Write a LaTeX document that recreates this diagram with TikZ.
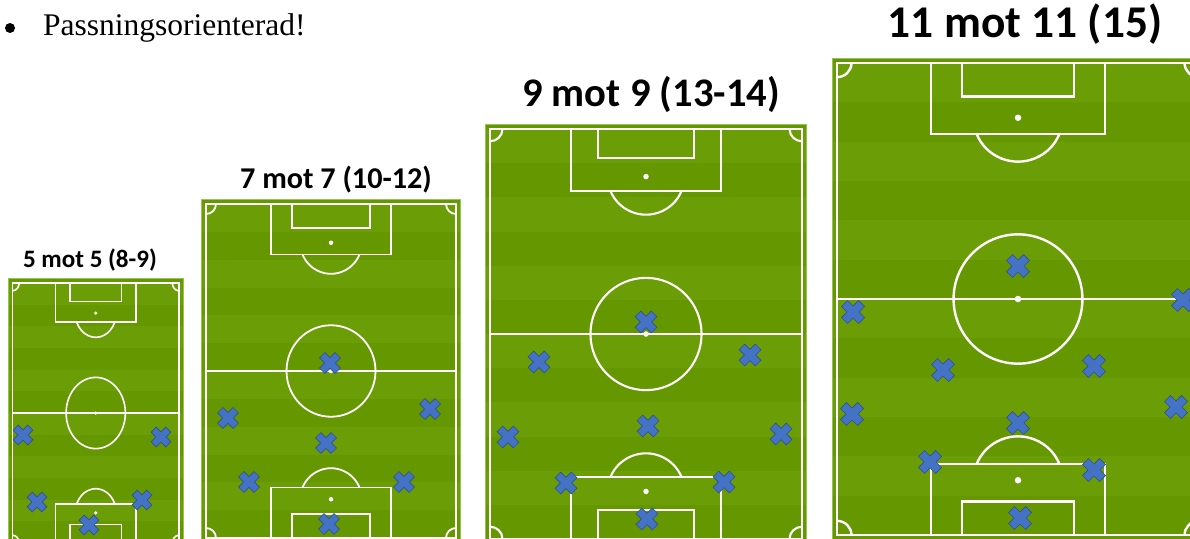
\documentclass[tikz,border=0pt]{standalone}
\usepackage{fontspec}
\setmainfont{Liberation Serif}
\newfontfamily\titlefont{Carlito}
\usetikzlibrary{positioning}

\definecolor{turf}{RGB}{101,151,0}
\definecolor{turflight}{RGB}{107,157,6}
\definecolor{turfedge}{RGB}{150,196,84}
\definecolor{plfill}{RGB}{68,114,196}
\definecolor{plline}{RGB}{47,82,143}

\tikzset{
  player/.pic={
    \filldraw[fill=plfill, draw=plline, line width=0.6pt, rotate=45]
      (-4,-11.5) -- (4,-11.5) -- (4,-4) -- (11.5,-4) -- (11.5,4) -- (4,4)
      -- (4,11.5) -- (-4,11.5) -- (-4,4) -- (-11.5,4) -- (-11.5,-4) -- (-4,-4) -- cycle;
  },
  agetitle/.style={font=\titlefont\bfseries, anchor=base, inner sep=0pt},
}

\begin{document}
\begin{tikzpicture}[x=1pt, y=-1pt]
  \useasboundingbox (0,0) rectangle (1190,538);
  \clip (0,0) rectangle (1190,538);

  % bullet line
  \node[circle, fill=black, inner sep=0pt, minimum size=10pt] (dot) at (10,28) {};
  \node[anchor=base west, inner sep=0pt, font=\fontsize{31.5}{36}\selectfont] (motto) at (43,35) {Passningsorienterad!};

  % pitches: name/left/top/width/length/line width/spot size
  \foreach \pn/\px/\py/\pw/\ph/\plw/\pds in {a/12.5/283/166.5/260/1.6/3.5,
      b/206/204/250/334/1.8/4.5, c/490/129/312/410/2.1/5.5, d/837/63/362/472/2.4/6.5} {
    \begin{scope}
      \clip ({\px-4.5},{\py-4.5}) rectangle ({\px+\pw+4.5},{\py+\ph+4.5});
      \fill[turf] ({\px-4.5},{\py-4.5}) rectangle ({\px+\pw+4.5},{\py+\ph+4.5});
      \begin{scope}[shift={(\px,\py)}, xscale=\pw, yscale=\ph]
        \foreach \k in {0,2,...,10}
          \fill[turflight] (-0.1,{\k/12}) rectangle (1.1,{(\k+1)/12});
      \end{scope}
    \end{scope}
    \draw[turfedge, line width=1pt] ({\px-4.5},{\py-4.5}) rectangle ({\px+\pw+4.5},{\py+\ph+4.5});
    \begin{scope}[shift={(\px,\py)}, xscale=\pw, yscale=\ph, white, line width=\plw pt]
      \draw (0,0) rectangle (1,1);
      \draw (0,0.5) -- (1,0.5);
      \draw (0.5,0.5) circle[x radius=0.178, y radius=0.137];
      % top end
      \draw (0.259,0) rectangle (0.741,0.151);
      \draw (0.345,0) rectangle (0.655,0.071);
      \draw (0.5,0.116) ++(22:0.123 and 0.093) arc[start angle=22, end angle=158, x radius=0.123, y radius=0.093];
      % bottom end
      \draw (0.259,1) rectangle (0.741,0.849);
      \draw (0.345,1) rectangle (0.655,0.929);
      \draw (0.5,0.884) ++(-22:0.123 and 0.093) arc[start angle=-22, end angle=-158, x radius=0.123, y radius=0.093];
      % corners
      \draw (0.04,0) arc[start angle=0, end angle=90, x radius=0.04, y radius=0.03];
      \draw (1,0.03) arc[start angle=90, end angle=180, x radius=0.04, y radius=0.03];
      \draw (0.04,1) arc[start angle=0, end angle=-90, x radius=0.04, y radius=0.03];
      \draw (0.96,1) arc[start angle=180, end angle=270, x radius=0.04, y radius=0.03];
      \node[circle, fill=white, inner sep=0pt, minimum size=\pds pt] (\pn-s1) at (0.5,0.116) {};
      \node[circle, fill=white, inner sep=0pt, minimum size=\pds pt] (\pn-s2) at (0.5,0.5) {};
      \node[circle, fill=white, inner sep=0pt, minimum size=\pds pt] (\pn-s3) at (0.5,0.884) {};
    \end{scope}
  }

  % titles
  \node[agetitle, font=\titlefont\bfseries\fontsize{25.1}{30}\selectfont] (t5) at (90,267) {5 mot 5 (8-9)};
  \node[agetitle, font=\titlefont\bfseries\fontsize{30.2}{36}\selectfont] (t7) at (336,188) {7 mot 7 (10-12)};
  \node[agetitle, font=\titlefont\bfseries\fontsize{40.6}{48}\selectfont] (t9) at (651,106) {9 mot 9 (13-14)};
  \node[agetitle, font=\titlefont\bfseries\fontsize{45.4}{54}\selectfont] (t11) at (1025,37) {11 mot 11 (15)};

  % players
  \foreach \mx/\my/\ms in {23/435/0.9, 161/437/0.9, 37/502/0.9, 142/500/0.9, 89/525/0.9,
      228/418/0.95, 430/409/0.95, 326/443/0.95, 249/482/0.95, 404/482/0.95, 330/363/0.95, 329/524/0.95,
      539/362/1, 646/322/1, 750/355/1, 508/437/1, 781/434/1, 648/426/1, 566/483/1, 724/482/1, 647/519/1,
      1018/266/1.05, 853/312/1.05, 1183/300/1.05, 943/370/1.05, 1094/366/1.05, 852/414/1.05,
      1176/407/1.05, 1018/423/1.05, 930/462/1.05, 1094/470/1.05, 1020/518/1.05}
    \pic[scale=\ms] at (\mx,\my) {player};
\end{tikzpicture}
\end{document}
